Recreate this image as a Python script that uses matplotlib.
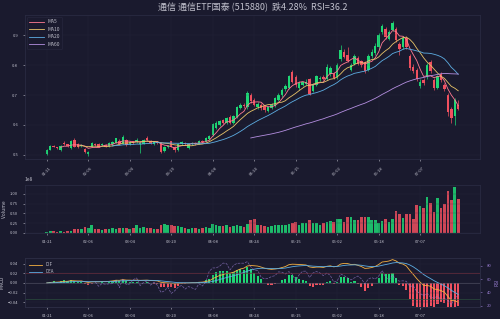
import matplotlib
matplotlib.use("Agg")
import matplotlib.pyplot as plt
import numpy as np
import pandas as pd

plt.rcParams['font.family'] = ['Noto Sans CJK SC', 'DejaVu Sans']

# daily bars (price in yuan, volume in 1e8)
opens = [0.503, 0.517, 0.530, 0.526, 0.515, 0.541, 0.535, 0.522, 0.550, 0.538,
         0.530, 0.519, 0.503, 0.528, 0.536, 0.537, 0.532, 0.533, 0.530, 0.536,
         0.541, 0.548, 0.537, 0.550, 0.537, 0.545, 0.543, 0.537, 0.538, 0.558,
         0.548, 0.537, 0.544, 0.539, 0.514, 0.527, 0.545, 0.528, 0.517, 0.535,
         0.541, 0.522, 0.535, 0.541, 0.538, 0.546, 0.545, 0.552, 0.565, 0.590,
         0.600, 0.615, 0.607, 0.628, 0.608, 0.628, 0.657, 0.667, 0.660, 0.700,
         0.684, 0.660, 0.668, 0.662, 0.648, 0.658, 0.665, 0.684, 0.700, 0.720,
         0.725, 0.778, 0.760, 0.722, 0.735, 0.738, 0.752, 0.715, 0.735, 0.752,
         0.760, 0.755, 0.770, 0.770, 0.760, 0.820, 0.845, 0.833, 0.785, 0.805,
         0.825, 0.812, 0.810, 0.785, 0.830, 0.840, 0.860, 0.910, 0.920, 0.888,
         0.918, 0.920, 0.870, 0.860, 0.890, 0.830, 0.795, 0.785, 0.730, 0.750,
         0.760, 0.810, 0.750, 0.725, 0.770, 0.735, 0.700, 0.655, 0.630, 0.668]
closes = [0.517, 0.530, 0.528, 0.522, 0.531, 0.535, 0.530, 0.546, 0.528, 0.528,
          0.533, 0.511, 0.511, 0.539, 0.533, 0.528, 0.537, 0.528, 0.539, 0.544,
          0.555, 0.538, 0.560, 0.534, 0.543, 0.541, 0.551, 0.540, 0.549, 0.550,
          0.540, 0.544, 0.541, 0.511, 0.528, 0.531, 0.528, 0.515, 0.537, 0.543,
          0.537, 0.537, 0.541, 0.536, 0.548, 0.543, 0.557, 0.562, 0.603, 0.607,
          0.613, 0.608, 0.622, 0.608, 0.630, 0.660, 0.667, 0.662, 0.706, 0.680,
          0.668, 0.670, 0.656, 0.650, 0.660, 0.668, 0.690, 0.700, 0.718, 0.730,
          0.762, 0.745, 0.735, 0.740, 0.742, 0.745, 0.705, 0.735, 0.762, 0.758,
          0.755, 0.795, 0.790, 0.758, 0.800, 0.850, 0.828, 0.815, 0.800, 0.830,
          0.805, 0.800, 0.780, 0.830, 0.845, 0.865, 0.900, 0.930, 0.895, 0.910,
          0.940, 0.885, 0.855, 0.890, 0.860, 0.790, 0.780, 0.755, 0.745, 0.740,
          0.800, 0.780, 0.725, 0.762, 0.750, 0.720, 0.645, 0.623, 0.683, 0.654]
highs = [0.519, 0.533, 0.533, 0.528, 0.534, 0.546, 0.538, 0.549, 0.556, 0.541,
         0.536, 0.522, 0.514, 0.542, 0.539, 0.540, 0.540, 0.536, 0.542, 0.547,
         0.558, 0.552, 0.565, 0.554, 0.546, 0.548, 0.555, 0.543, 0.552, 0.562,
         0.551, 0.547, 0.547, 0.542, 0.531, 0.534, 0.548, 0.531, 0.540, 0.546,
         0.544, 0.540, 0.544, 0.544, 0.551, 0.549, 0.560, 0.566, 0.607, 0.612,
         0.617, 0.619, 0.626, 0.632, 0.634, 0.665, 0.672, 0.672, 0.712, 0.708,
         0.690, 0.676, 0.672, 0.666, 0.665, 0.673, 0.695, 0.706, 0.724, 0.736,
         0.768, 0.785, 0.766, 0.746, 0.748, 0.752, 0.758, 0.741, 0.768, 0.765,
         0.766, 0.802, 0.798, 0.776, 0.808, 0.868, 0.852, 0.860, 0.806, 0.836,
         0.831, 0.818, 0.815, 0.836, 0.852, 0.872, 0.908, 0.938, 0.926, 0.916,
         0.948, 0.928, 0.876, 0.896, 0.896, 0.836, 0.802, 0.790, 0.752, 0.756,
         0.808, 0.816, 0.756, 0.768, 0.776, 0.740, 0.706, 0.660, 0.690, 0.682]
lows = [0.500, 0.515, 0.525, 0.520, 0.513, 0.532, 0.527, 0.520, 0.525, 0.524,
        0.527, 0.508, 0.495, 0.525, 0.530, 0.526, 0.529, 0.525, 0.528, 0.534,
        0.539, 0.535, 0.535, 0.531, 0.534, 0.538, 0.540, 0.508, 0.535, 0.547,
        0.537, 0.534, 0.538, 0.508, 0.511, 0.524, 0.525, 0.511, 0.514, 0.532,
        0.534, 0.519, 0.532, 0.533, 0.535, 0.540, 0.542, 0.549, 0.562, 0.586,
        0.596, 0.603, 0.603, 0.604, 0.604, 0.624, 0.652, 0.657, 0.655, 0.675,
        0.662, 0.655, 0.650, 0.644, 0.643, 0.653, 0.660, 0.680, 0.695, 0.714,
        0.720, 0.740, 0.728, 0.716, 0.730, 0.732, 0.700, 0.710, 0.730, 0.746,
        0.749, 0.750, 0.764, 0.752, 0.755, 0.815, 0.822, 0.810, 0.780, 0.800,
        0.800, 0.794, 0.775, 0.780, 0.825, 0.835, 0.855, 0.905, 0.888, 0.882,
        0.912, 0.878, 0.835, 0.855, 0.852, 0.782, 0.772, 0.748, 0.724, 0.734,
        0.755, 0.772, 0.718, 0.720, 0.744, 0.712, 0.630, 0.605, 0.600, 0.650]
volumes = [0.03, 0.05, 0.04, 0.03, 0.04, 0.03, 0.04, 0.05, 0.10, 0.11,
           0.09, 0.14, 0.13, 0.20, 0.10, 0.09, 0.08, 0.11, 0.10, 0.12,
           0.11, 0.12, 0.13, 0.12, 0.10, 0.13, 0.20, 0.13, 0.14, 0.13,
           0.12, 0.10, 0.09, 0.20, 0.24, 0.19, 0.20, 0.17, 0.17, 0.15,
           0.12, 0.11, 0.12, 0.13, 0.11, 0.12, 0.14, 0.13, 0.22, 0.20,
           0.18, 0.17, 0.19, 0.15, 0.17, 0.20, 0.18, 0.16, 0.23, 0.34,
           0.36, 0.20, 0.20, 0.17, 0.16, 0.18, 0.21, 0.21, 0.20, 0.21,
           0.22, 0.25, 0.29, 0.20, 0.25, 0.25, 0.32, 0.25, 0.25, 0.20,
           0.26, 0.27, 0.31, 0.28, 0.36, 0.35, 0.28, 0.40, 0.41, 0.32,
           0.32, 0.40, 0.40, 0.40, 0.32, 0.32, 0.26, 0.30, 0.36, 0.28,
           0.36, 0.57, 0.49, 0.38, 0.49, 0.49, 0.36, 0.72, 0.70, 0.63,
           0.93, 0.78, 0.53, 0.90, 0.65, 0.75, 1.07, 0.84, 1.17, 0.86]
tick_labels = ['01-21', '02-06', '03-04', '03-20', '04-08',
               '04-24', '05-15', '06-02', '06-18', '07-07']
tick_step = 12
title = '通信 通信ETF国泰 (515880)  跌4.28%  RSI=36.2'

BG = '#1a1a2e'
UP = '#1ed775'
DOWN = '#f0505f'
TXT = '#c0c0cc'
ma_colors = {'MA5': '#ff7b93', 'MA10': '#e8c468', 'MA20': '#5dade2', 'MA60': '#b48ee0'}

df = pd.DataFrame({'open': opens, 'close': closes, 'high': highs, 'low': lows,
                   'vol': np.array(volumes) * 1e8})
x = np.arange(len(df))
up = df['close'] >= df['open']
colors = np.where(up, UP, DOWN)

fig = plt.figure(figsize=(5, 3.19), dpi=100, facecolor=BG)
ax1 = fig.add_axes([0.05, 0.502, 0.91, 0.451])
ax2 = fig.add_axes([0.05, 0.27, 0.91, 0.15], sharex=ax1)
ax3 = fig.add_axes([0.05, 0.038, 0.91, 0.153], sharex=ax1)

for ax in (ax1, ax2, ax3):
    ax.set_facecolor(BG)
    for s in ax.spines.values():
        s.set_color('#2c2d45')
        s.set_linewidth(0.5)
    ax.tick_params(colors=TXT, labelsize=3, length=1.5, width=0.4)
    ax.grid(True, color='#2a2b42', linewidth=0.3, alpha=0.6)

# candles
ax1.vlines(x, df['low'], df['high'], color=colors, linewidth=0.5)
body = (df['close'] - df['open']).abs().clip(lower=0.002)
ax1.bar(x, body, bottom=np.minimum(df['open'], df['close']), width=0.7, color=colors)
for name, n in [('MA5', 5), ('MA10', 10), ('MA20', 20), ('MA60', 60)]:
    ax1.plot(x, df['close'].rolling(n).mean(), color=ma_colors[name], lw=0.6, label=name)
ax1.set_ylim(0.487, 0.967)
ax1.set_xlim(-6.3, 125.3)
ax1.set_yticks([0.5, 0.6, 0.7, 0.8, 0.9])
leg = ax1.legend(loc='upper left', fontsize=3.5, facecolor=BG, edgecolor='#2c2d45',
                 labelcolor=TXT, handlelength=3)
leg.get_frame().set_linewidth(0.4)
ax1.set_title(title, color=TXT, fontsize=6.5, pad=4)

ticks = x[::tick_step]
ax1.set_xticks(ticks)
ax1.set_xticklabels(tick_labels, rotation=45)
ax1.tick_params(axis='x', labelbottom=True)

# volume
ax2.bar(x, df['vol'], width=0.75, color=colors, alpha=0.85)
ax2.set_ylim(0, 1.23e8)
ax2.set_yticks([0, 0.25e8, 0.5e8, 0.75e8, 1.0e8])
ax2.set_ylabel('Volume', color=TXT, fontsize=3.5, labelpad=2)
ax2.yaxis.get_offset_text().set_fontsize(3.5)
ax2.yaxis.get_offset_text().set_color(TXT)
ax2.tick_params(axis='x', labelbottom=True)
ax2.set_xticks(ticks)
ax2.set_xticklabels(tick_labels, rotation=0)

# MACD
ema12 = df['close'].ewm(span=12, adjust=False).mean()
ema26 = df['close'].ewm(span=26, adjust=False).mean()
dif = ema12 - ema26
dea = dif.ewm(span=9, adjust=False).mean()
hist = 3 * (dif - dea)
ax3.bar(x, hist, width=0.6, color=np.where(hist >= 0, UP, DOWN))
ax3.plot(x, dif, color='#f5b041', lw=0.6, label='DIF')
ax3.plot(x, dea, color='#5dade2', lw=0.6, label='DEA')
ax3.axhline(0, color='#555566', lw=0.4)
ax3.set_ylim(-0.05, 0.052)
ax3.set_yticks([-0.04, -0.02, 0.0, 0.02, 0.04])
ax3.set_ylabel('MACD', color=TXT, fontsize=3.5, labelpad=2)
leg3 = ax3.legend(loc='upper left', fontsize=3.2, facecolor=BG, edgecolor=BG,
                  labelcolor=TXT, handlelength=3)
ax3.set_xticks(ticks)
ax3.set_xticklabels(tick_labels, rotation=0)

# RSI on twin axis
delta = df['close'].diff()
gain = delta.clip(lower=0).rolling(14).mean()
loss = (-delta.clip(upper=0)).rolling(14).mean()
rsi = 100 - 100 / (1 + gain / loss)
ax4 = ax3.twinx()
ax4.plot(x, rsi, color='#9b7fd4', lw=0.5, ls='--', alpha=0.7)
ax4.axhline(70, color='#7a3040', lw=0.4)
ax4.axhline(30, color='#2f5a40', lw=0.4)
ax4.set_ylim(18, 92)
ax4.set_yticks([20, 40, 60, 80])
ax4.tick_params(colors='#9b7fd4', labelsize=3, length=1.5, width=0.4)
ax4.set_ylabel('RSI', color='#9b7fd4', fontsize=3.5, labelpad=2)
for s in ax4.spines.values():
    s.set_color('#2c2d45')
    s.set_linewidth(0.5)

fig.savefig('out.png', dpi=100, facecolor=BG)
